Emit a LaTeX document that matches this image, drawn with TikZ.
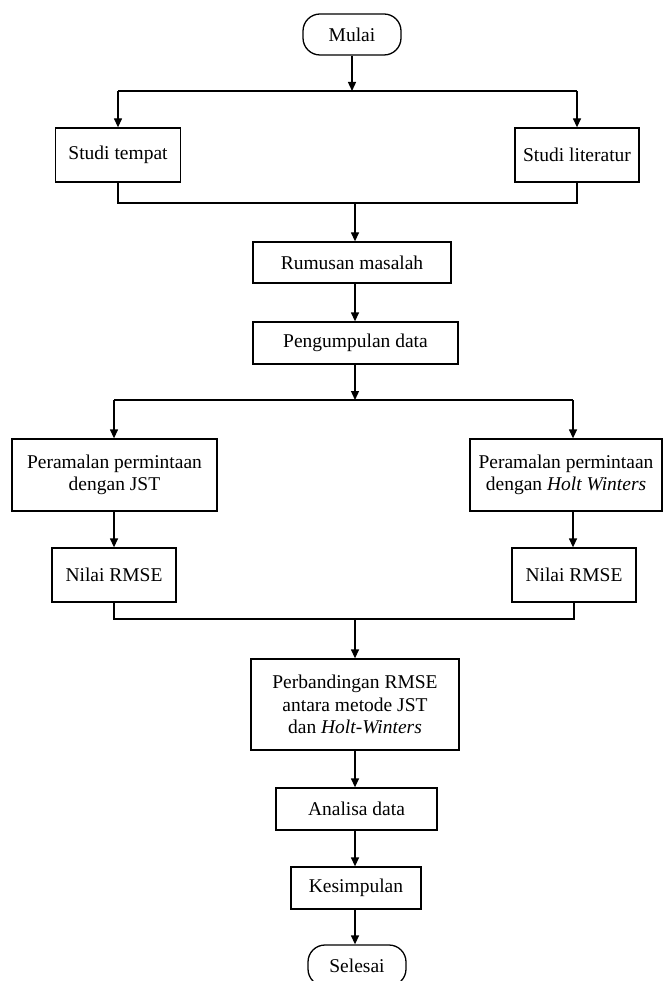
\documentclass[tikz,border=0pt]{standalone}
\usepackage{fontspec}
\setmainfont{Liberation Serif}
\usetikzlibrary{arrows.meta}
\begin{document}
\begin{tikzpicture}[x=1pt,y=-1pt,
  every node/.style={font=\fontsize{19.5}{22.5}\selectfont, align=center, inner sep=0pt},
  box/.style={draw, line width=1.3pt, rectangle},
  term/.style={draw, line width=1.3pt, rectangle, rounded corners=17pt},
  conn/.style={line width=1.3pt},
  arr/.style={line width=1.3pt, -{Triangle[length=9pt,width=8pt]}}]
\useasboundingbox (0,0) rectangle (663,981);
\clip (0,0) rectangle (663,981);
% nodes
\node[term, minimum width=98pt, minimum height=41pt] (mulai) at (352,34.5) {Mulai};
\node[box, minimum width=125pt, minimum height=54pt] (st) at (118,155) {Studi tempat};
\node[box, minimum width=124pt, minimum height=54pt] (sl) at (577,155) {Studi literatur};
\node[box, minimum width=198pt, minimum height=41pt] (rm) at (352,262.5) {Rumusan masalah};
\node[box, minimum width=205pt, minimum height=42pt] (pd) at (355.5,343) {Pengumpulan data};
\node[box, minimum width=205pt, minimum height=72pt] (pj) at (114.5,475) {Peramalan permintaan\\dengan JST};
\node[box, minimum width=192pt, minimum height=72pt] (ph) at (566,475) {Peramalan permintaan\\dengan \textit{Holt Winters}};
\node[box, minimum width=124pt, minimum height=54pt] (nl) at (114,575) {Nilai RMSE};
\node[box, minimum width=124pt, minimum height=54pt] (nr) at (574,575) {Nilai RMSE};
\node[box, minimum width=208pt, minimum height=91pt] (pb) at (355,704.5) {Perbandingan RMSE\\antara metode JST\\dan \textit{Holt-Winters}};
\node[box, minimum width=161pt, minimum height=42pt] (ad) at (356.5,809) {Analisa data};
\node[box, minimum width=130pt, minimum height=42pt] (ks) at (356,888) {Kesimpulan};
\node[term, minimum width=98pt, minimum height=41pt] (se) at (357,965.5) {Selesai};
% junctions
\coordinate (j1) at (352,91);
\coordinate (j2) at (355,203);
\coordinate (j3) at (355,400);
\coordinate (l3a) at (114,400);
\coordinate (l3b) at (573,400);
\coordinate (j4) at (355,619);
% connectors
\draw[arr] (mulai.south) -- (j1);
\draw[conn] (st.north |- j1) -- (sl.north |- j1);
\draw[arr] (st.north |- j1) -- (st.north);
\draw[arr] (sl.north |- j1) -- (sl.north);
\draw[conn] (st.south) -- (st.south |- j2) -- (sl.south |- j2) -- (sl.south);
\draw[arr] (j2) -- (rm.north -| j2);
\draw[arr] (rm.south -| j2) -- (pd.north -| j2);
\draw[arr] (pd.south -| j3) -- (j3);
\draw[conn] (l3a) -- (l3b);
\draw[arr] (l3a) -- (pj.north -| l3a);
\draw[arr] (l3b) -- (ph.north -| l3b);
\draw[arr] (pj.south -| l3a) -- (nl.north -| l3a);
\draw[arr] (ph.south -| l3b) -- (nr.north -| l3b);
\draw[conn] (nl.south) -- (nl.south |- j4) -- (nr.south |- j4) -- (nr.south);
\draw[arr] (j4) -- (pb.north -| j4);
\draw[arr] (pb.south) -- (pb.south |- ad.north);
\draw[arr] (ad.south -| pb.south) -- (ks.north -| pb.south);
\draw[arr] (ks.south -| pb.south) -- (se.north -| pb.south);
\end{tikzpicture}
\end{document}
